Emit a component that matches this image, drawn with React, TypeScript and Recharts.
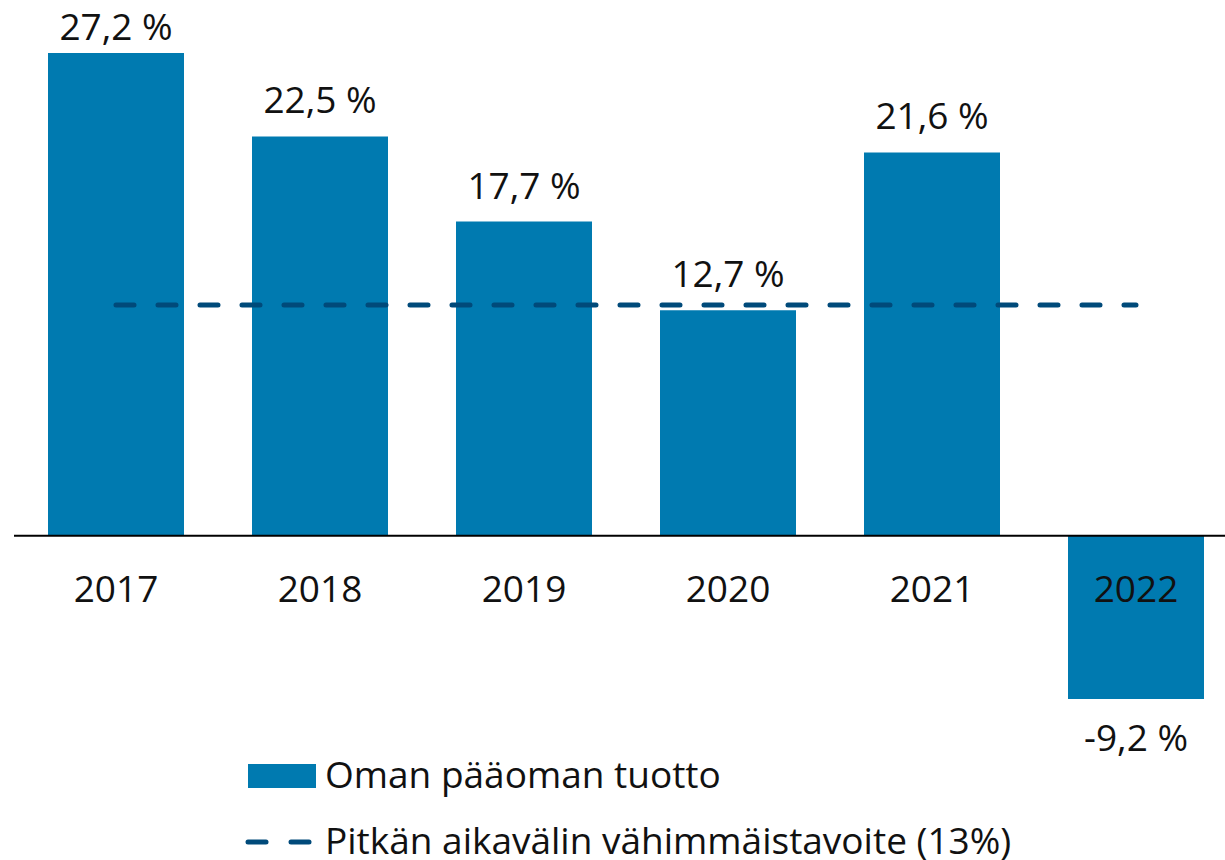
import React from 'react';
import { ComposedChart, Bar, Line, XAxis, YAxis, ReferenceLine, LabelList } from 'recharts';

const years = ['2017', '2018', '2019', '2020', '2021', '2022'];
const roe = [27.2, 22.5, 17.7, 12.7, 21.6, -9.2];
const target = [13, 13, 13, 13, 13, 13];
const baseline = [0, 0, 0, 0, 0, 0];
const legendLabels = ['Oman pääoman tuotto', 'Pitkän aikavälin vähimmäistavoite (13%)'];

const BAR_COLOR = '#007AB0';
const LINE_COLOR = '#004A7A';
const TEXT_COLOR = '#111111';
const FONT = "'Open Sans', 'Noto Sans', sans-serif";
const FONT_SIZE = 37;

const data = years.map((y, i) => ({ year: y, roe: roe[i], target: target[i], zero: baseline[i] }));

const fmt = (v: number) => `${v.toFixed(1).replace('.', ',')} %`;

const ValueLabel = (props: any) => {
  const { x, y, width, height, value } = props;
  const top = Math.min(y, y + height);
  const bottom = Math.max(y, y + height);
  const cx = x + width / 2;
  const ty = value >= 0 ? Math.max(top - 23, 40) : bottom + 52;
  return (
    <text x={cx} y={ty} textAnchor="middle" fill={TEXT_COLOR} fontSize={FONT_SIZE} fontFamily={FONT}>
      {fmt(value)}
    </text>
  );
};

const YearLabel = (props: any) => {
  const { x, y, value } = props;
  return (
    <text x={x} y={y + 66} textAnchor="middle" fill={TEXT_COLOR} fontSize={FONT_SIZE} fontFamily={FONT}>
      {value}
    </text>
  );
};

export default function App() {
  return (
    <div style={{ position: 'absolute', left: 0, top: 0, width: 1225, height: 860, overflow: 'hidden', background: '#fff' }}>
      <ComposedChart width={1240} height={860} data={data} margin={{ top: 53, right: 2, bottom: 161, left: 14 }}>
        <XAxis dataKey="year" hide />
        <YAxis hide domain={[-9.2, 27.2]} type="number" />
        <Bar dataKey="roe" fill={BAR_COLOR} barSize={136} isAnimationActive={false}>
          <LabelList dataKey="roe" content={ValueLabel} />
        </Bar>
        <ReferenceLine y={0} stroke="#000" strokeWidth={1.8} ifOverflow="extendDomain" />
        <Line
          dataKey="target"
          stroke={LINE_COLOR}
          strokeWidth={5}
          strokeDasharray="18 24"
          strokeLinecap="round"
          dot={false}
          activeDot={false}
          isAnimationActive={false}
        />
        <Line dataKey="zero" stroke="none" dot={false} activeDot={false} isAnimationActive={false}>
          <LabelList dataKey="year" content={YearLabel} />
        </Line>
      </ComposedChart>
      <svg width={1225} height={130} style={{ position: 'absolute', left: 0, top: 730 }}>
        <rect x={248} y={34} width={68} height={24} fill={BAR_COLOR} />
        <text x={325} y={58} fill={TEXT_COLOR} fontSize={FONT_SIZE} fontFamily={FONT}>{legendLabels[0]}</text>
        <line x1={248} y1={112} x2={266} y2={112} stroke={LINE_COLOR} strokeWidth={5} strokeLinecap="round" />
        <line x1={291} y1={112} x2={309} y2={112} stroke={LINE_COLOR} strokeWidth={5} strokeLinecap="round" />
        <text x={325} y={124} fill={TEXT_COLOR} fontSize={FONT_SIZE} fontFamily={FONT}>{legendLabels[1]}</text>
      </svg>
    </div>
  );
}
